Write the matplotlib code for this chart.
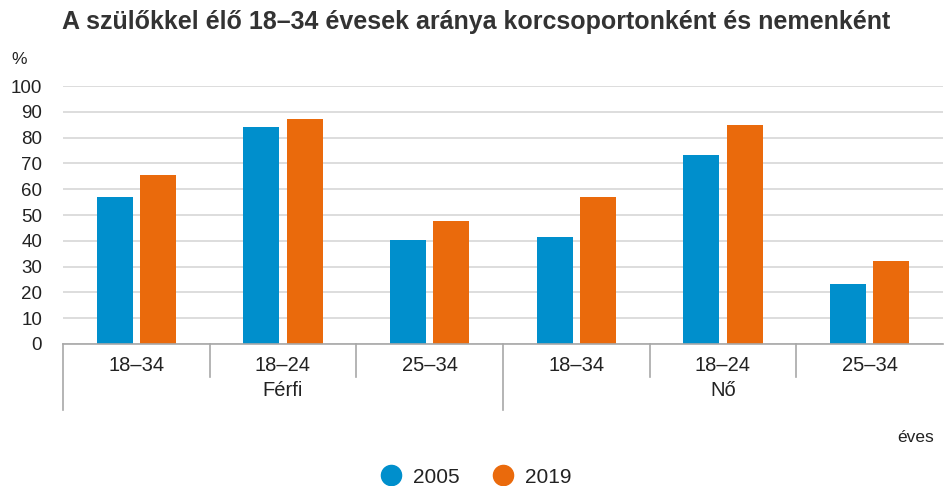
import matplotlib
matplotlib.use("Agg")
import matplotlib.pyplot as plt
from matplotlib.lines import Line2D
import numpy as np

plt.rcParams['font.family'] = ['Liberation Sans', 'DejaVu Sans']

title = "A szülőkkel élő 18–34 évesek aránya korcsoportonként és nemenként"
age_groups = ["18–34", "18–24", "25–34", "18–34", "18–24", "25–34"]
sexes = ["Férfi", "Nő"]
series_names = ["2005", "2019"]
values_2005 = [57.0, 84.0, 40.5, 41.6, 73.4, 23.2]
values_2019 = [65.6, 87.2, 47.6, 56.9, 84.7, 32.1]
colors = ["#008FCC", "#EA6A0C"]
y_ticks = [0, 10, 20, 30, 40, 50, 60, 70, 80, 90, 100]

W, H = 944, 486
fig = plt.figure(figsize=(W / 100, H / 100), dpi=100)
ax = fig.add_axes([63 / W, 1 - 344 / H, 880 / W, 258 / H])

x = np.arange(len(age_groups))
bw = 0.245
off = 0.148
ax.bar(x - off, values_2005, bw, color=colors[0], zorder=3)
ax.bar(x + off, values_2019, bw, color=colors[1], zorder=3)

txt_col = "#222222"
ax.set_xlim(-0.5, len(age_groups) - 0.5)
ax.set_ylim(0, 100)
ax.set_yticks(y_ticks)
ax.set_yticklabels([str(v) for v in y_ticks], fontsize=13.5, color=txt_col)
ax.tick_params(axis='y', length=0, pad=15)
ax.tick_params(axis='x', length=0, labelbottom=False)
ax.yaxis.grid(True, color="#DADADA", linewidth=1.3, zorder=0)
for s in ax.spines.values():
    s.set_visible(False)
ax.axhline(0, color="#A8A8A8", linewidth=1.2, zorder=4, clip_on=False)

trans = ax.get_xaxis_transform()
line_kw = dict(color="#A8A8A8", linewidth=1.2, clip_on=False, transform=trans)
for b in [0.5, 1.5, 3.5, 4.5]:
    ax.plot([b, b], [0, -0.128], **line_kw)
for b in [-0.5, 2.5]:
    ax.plot([b, b], [0, -0.256], **line_kw)

for xi, lab in zip(x, age_groups):
    ax.text(xi, -0.085, lab, transform=trans, ha='center', va='center',
            fontsize=14.5, color=txt_col)
for gi, sx in enumerate(sexes):
    ax.text(gi * 3 + 1, -0.182, sx, transform=trans, ha='center', va='center',
            fontsize=14.5, color=txt_col)

fig.text(62 / W, 1 - 22 / H, title, ha='left', va='center', fontsize=18,
         fontweight='bold', color="#333333")
fig.text(11 / W, 1 - 59 / H, "%", ha='left', va='center', fontsize=12.5, color=txt_col)
fig.text(934 / W, 1 - 437 / H, "éves", ha='right', va='center', fontsize=12.5, color=txt_col)

handles = [Line2D([0], [0], marker='o', linestyle='none', markersize=14.5,
                  markerfacecolor=c, markeredgecolor=c) for c in colors]
fig.legend(handles, series_names, loc='center', bbox_to_anchor=(476 / W, 1 - 477 / H),
           ncol=2, frameon=False, fontsize=15, handlelength=1.0, handletextpad=0.53,
           columnspacing=1.6, labelcolor=txt_col, borderaxespad=0, borderpad=0)

fig.savefig("out.png", dpi=100)
